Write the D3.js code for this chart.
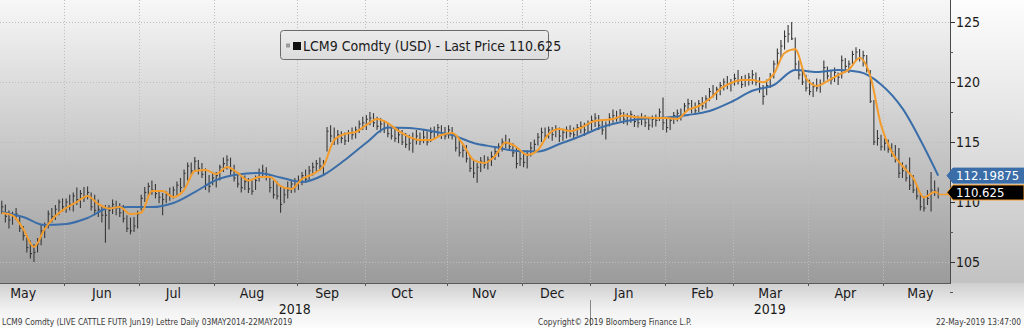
<!DOCTYPE html>
<html>
<head>
<meta charset="utf-8">
<script src="https://cdn.jsdelivr.net/npm/d3@7"></script>
<style>
  html, body { margin: 0; padding: 0; background: #ffffff; overflow: hidden; }
  svg text { font-family: "DejaVu Sans Condensed", "DejaVu Sans", sans-serif; font-stretch: condensed; }
</style>
</head>
<body>
<svg id="chart" width="1024" height="328"></svg>
<script>
// ---- Sessions: LCM9 daily bars, 07-May-2018 .. 22-May-2019 ----
const startDate = "2018-05-07";
const endDate = "2019-05-22";
const holidays = ["2018-05-28", "2018-07-04", "2018-09-03", "2018-11-22", "2018-12-05",
  "2018-12-25", "2019-01-01", "2019-01-21", "2019-02-18", "2019-04-19"];

// ---- Daily highs ----
const highs = [
  // May 2018
  110.1,109.8,109.3,109.2,109.5,108.9,108.0,107.25,106.8,106.5,107.0,108.1,108.3,109.3,109.5,109.75,110.2,110.3,
  // Jun
  110.3,110.6,110.8,111.2,111.0,111.25,111.3,110.8,110.6,110.2,109.7,109.75,109.75,110.2,110.1,109.9,109.75,108.9,108.7,108.75,109.3,
  // Jul
  110.6,111.25,111.6,111.8,111.5,111.0,110.75,110.9,111.2,111.3,111.7,112.0,112.7,113.3,113.3,113.75,113.5,113.25,112.8,112.25,112.5,
  // Aug
  112.5,113.1,113.7,113.9,113.7,113.1,112.5,112.25,112.2,112.0,111.8,112.2,112.8,113.1,112.9,112.25,111.8,111.7,111.4,111.2,111.7,111.8,112.0,
  // Sep
  112.2,112.5,112.7,113.0,113.3,113.5,113.7,113.5,116.25,116.4,116.2,116.0,115.9,115.8,116.0,116.2,116.3,116.8,117.1,
  // Oct
  117.25,117.5,117.4,117.1,117.0,116.8,116.6,116.4,116.25,116.2,116.0,115.75,115.6,115.8,116.0,115.8,116.0,115.9,116.2,116.3,116.5,116.4,116.25,
  // Nov
  116.4,116.25,115.6,115.2,114.9,114.75,113.9,113.5,113.25,113.75,113.9,113.8,114.2,114.5,114.9,115.3,115.6,115.3,114.9,114.5,114.3,
  // Dec
  114.2,114.3,115.0,115.2,115.75,116.2,116.2,116.3,116.25,116.4,116.2,116.1,116.3,116.4,116.2,116.5,116.7,116.6,116.8,
  // Jan 2019
  117.2,117.4,117.25,116.8,116.7,117.4,117.7,117.6,117.75,117.5,117.4,117.6,117.25,117.2,117.4,117.25,117.1,117.2,117.3,117.8,118.7,
  // Feb
  117.0,117.1,117.5,117.7,117.8,118.25,118.6,118.5,118.3,118.5,118.75,118.9,119.5,119.75,119.6,120.0,120.3,120.5,120.25,
  // Mar
  120.7,121.0,120.5,120.6,120.75,121.0,120.8,120.4,119.75,120.2,120.75,121.8,122.8,123.5,124.3,124.75,125.0,123.7,121.8,121.2,120.6,
  // Apr
  120.2,120.0,120.3,120.2,121.8,121.3,121.0,121.2,120.8,122.2,122.0,121.8,122.6,122.9,122.75,122.6,122.25,121.0,118.5,116.0,115.6,
  // May
  115.3,115.2,114.9,114.75,114.5,113.3,113.1,113.7,112.25,111.4,110.8,110.5,111.0,112.5,111.8,111.2
];

// ---- Daily lows ----
const lows = [
  109.0,108.3,107.8,108.1,108.5,107.5,106.8,105.8,105.3,105.0,105.8,106.4,107.0,107.8,108.3,108.5,108.9,109.2,
  109.1,109.3,109.2,109.75,109.5,110.0,110.2,109.3,108.9,108.75,108.3,106.6,107.7,109.0,108.9,108.75,108.3,107.5,107.3,107.5,107.8,
  109.3,110.0,110.3,110.6,110.3,109.9,108.9,109.9,110.1,110.3,110.5,110.8,111.2,111.8,112.2,112.5,112.3,112.0,111.0,110.8,111.4,
  111.2,111.8,112.5,112.7,112.25,111.7,111.2,110.8,111.0,110.75,110.6,111.0,111.7,112.0,111.8,110.8,110.3,110.2,109.1,109.9,110.3,110.75,110.8,
  111.0,111.4,111.6,111.8,112.2,112.5,112.6,112.3,114.2,115.0,114.75,114.8,114.9,114.75,115.0,115.2,115.3,115.75,116.0,
  116.0,116.4,116.25,116.0,115.8,115.75,115.4,115.2,115.0,114.9,114.75,114.5,114.3,114.1,114.8,114.75,114.9,114.7,115.0,115.3,115.4,115.25,115.2,
  115.3,115.2,114.2,113.8,113.7,113.3,112.5,112.0,111.6,112.5,112.8,112.7,113.0,113.5,113.75,114.2,114.5,114.3,113.75,112.8,113.0,
  112.9,112.8,113.8,114.1,114.7,115.0,115.2,115.3,115.1,115.4,115.0,115.1,115.3,115.4,115.2,115.5,115.7,115.5,115.75,
  116.0,116.25,116.0,115.6,115.2,116.3,116.6,116.7,116.75,116.5,116.4,116.6,116.25,116.2,116.4,116.25,116.0,116.2,116.3,116.75,116.0,
  115.8,116.0,116.5,116.7,116.8,117.2,117.6,117.4,117.25,117.5,117.7,117.8,118.4,118.7,118.5,118.9,119.3,119.4,119.2,
  119.7,119.8,119.5,119.6,119.7,119.8,119.7,119.1,118.1,118.9,119.5,120.3,121.3,122.0,122.7,123.3,123.5,121.0,120.2,119.75,119.2,
  118.9,118.75,119.2,119.1,120.0,120.2,119.8,120.0,119.75,120.3,120.8,120.75,121.5,121.8,121.7,121.3,120.8,118.25,114.75,114.7,114.3,
  114.3,114.1,113.75,113.3,112.0,112.0,111.7,111.0,110.75,110.2,109.3,109.2,109.75,109.2,110.5,110.3
];

// ---- Daily closes ----
const closes = [
  109.6,108.8,108.5,108.9,109.0,107.8,107.2,106.2,105.7,105.8,106.5,107.6,108.0,109.0,108.8,109.4,110.0,109.6,
  110.0,109.8,110.5,110.2,110.7,110.4,110.8,109.6,109.3,109.4,108.9,108.9,109.3,109.8,109.5,109.1,108.6,107.8,107.6,108.0,109.0,
  110.3,110.8,111.3,111.0,110.7,110.4,110.2,110.6,110.5,111.0,111.4,111.2,112.4,113.0,112.6,113.4,112.8,112.3,111.4,111.3,112.0,
  112.2,112.9,113.2,113.5,112.6,112.0,111.5,111.2,111.7,111.1,110.9,111.8,112.4,112.6,112.1,111.2,110.6,110.5,109.8,110.6,111.0,111.5,111.3,
  111.8,112.2,111.9,112.6,112.9,113.2,113.0,113.3,115.9,115.5,115.2,115.6,115.3,115.1,115.7,115.6,116.0,116.5,116.6,
  116.9,117.0,116.6,116.3,116.5,116.1,115.7,115.5,115.3,115.6,115.0,114.8,114.9,115.2,115.5,115.1,115.4,115.0,115.8,115.9,116.2,115.7,115.5,
  116.0,115.6,114.5,114.1,114.3,113.6,112.8,112.4,112.9,113.4,113.1,113.5,113.8,114.2,114.6,115.0,114.9,114.6,114.1,113.2,113.6,
  113.3,113.9,114.5,114.8,115.4,115.8,115.5,116.0,115.6,116.1,115.5,115.8,116.0,115.7,115.6,116.2,116.3,116.0,116.5,
  116.8,117.0,116.4,116.0,116.4,117.0,117.2,117.0,117.4,116.9,117.1,117.3,116.7,116.6,117.0,116.6,116.4,116.9,116.8,117.5,116.6,
  116.2,116.8,117.2,117.4,117.1,118.0,118.2,117.8,117.6,118.2,118.0,118.6,119.2,119.0,119.4,119.7,120.0,119.8,119.9,
  120.3,120.1,119.8,120.2,120.4,120.6,120.0,119.5,118.8,119.7,120.4,121.5,122.4,123.0,123.8,124.0,123.6,121.5,120.6,120.0,119.5,
  119.2,119.6,119.5,119.8,121.2,120.5,120.2,120.8,120.4,121.8,121.3,121.5,122.3,122.5,122.0,122.2,121.0,118.4,115.0,115.3,114.6,
  114.9,114.4,114.2,113.6,112.4,112.6,112.0,111.4,111.0,110.5,109.6,109.5,110.3,111.0,110.9,110.625
];

// ---- Short moving average (orange), read every 3rd session; last value on the final session ----
const fastMA = [
  109.08,108.88,107.75,106.25,107.75,108.83,109.5,110.0,110.5,109.83,
  109.46,109.58,109.0,109.1,110.92,110.92,110.42,111.0,112.58,112.67,
  112.33,112.92,112.42,111.79,112.08,112.08,111.33,111.08,111.92,112.33,
  113.0,115.17,115.67,115.83,116.42,116.92,116.58,115.92,115.42,115.17,
  115.17,115.58,115.75,114.83,113.5,113.25,113.83,114.96,114.58,113.92,
  114.33,115.67,116.08,115.92,116.17,116.67,116.83,116.92,117.21,117.08,
  117.04,117.0,117.0,116.92,117.67,118.0,118.58,119.42,119.92,120.17,
  120.17,119.98,120.67,122.42,122.72,120.33,119.67,120.08,120.58,121.04,
  122.0,120.5,116.42,114.17,113.0,112.0,110.38,110.83,
  110.75
];
// ---- Long moving average (blue), read every 6th session; last value on the final session ----
const slowMA = [
  109.17,108.75,108.08,108.17,108.67,109.5,109.58,109.58,109.92,110.83,
  111.83,112.29,112.42,112.04,111.67,112.25,113.5,114.94,116.2,116.17,
  115.92,115.58,114.92,114.58,114.25,114.21,114.83,115.5,116.25,116.71,
  116.96,117.04,117.25,117.58,118.33,119.27,119.75,121.0,120.83,121.0,
  120.83,119.8,117.8,114.6,
  112.19875
];

const yTicks = [105, 110, 115, 120, 125];
const lastPrice = 110.625;
const legendText = "LCM9 Comdty (USD) - Last Price 110.625";
const footerLeft = "LCM9 Comdty (LIVE CATTLE FUTR  Jun19) Lettre  Daily 03MAY2014-22MAY2019";
const footerMid = "Copyright\u00A9 2019 Bloomberg Finance L.P.";
const footerRight = "22-May-2019 13:47:00";

// ---- Layout ----
const W = 1024, H = 328;
const plotRight = 950, plotBottom = 283;
const ORANGE = "#f39c2c", BLUE = "#3b6ea8", BAR = "#383838";

const fmt = d3.utcFormat("%Y-%m-%d");
const parse = d3.utcParse("%Y-%m-%d");
const sessions = d3.utcDays(parse(startDate), d3.utcDay.offset(parse(endDate), 1))
  .filter(d => d.getUTCDay() !== 0 && d.getUTCDay() !== 6 && !holidays.includes(fmt(d)));
const keys = sessions.map(fmt);
const n = keys.length;

const x = d3.scaleBand().domain(keys).range([0, 940]).paddingInner(0).paddingOuter(0);
const cx = k => x(k) + x.bandwidth() / 2;
const y = d3.scaleLinear().domain([105, 125]).range([262, 22]);

const svg = d3.select("#chart");
const defs = svg.append("defs");
function vgrad(id, stops) {
  const g = defs.append("linearGradient").attr("id", id)
    .attr("x1", 0).attr("y1", 0).attr("x2", 0).attr("y2", 1);
  stops.forEach(([o, c]) => g.append("stop").attr("offset", o).attr("stop-color", c));
}
vgrad("plotBg", [[0, "#f7f7f7"], [1, "#9b9b9b"]]);
vgrad("sideBg", [[0, "#fdfdfd"], [1, "#c2c2c2"]]);
vgrad("footBg", [[0, "#cfcfcf"], [0.6, "#f2f2f2"], [1, "#fcfcfc"]]);
vgrad("legendBg", [[0, "#ececec"], [1, "#dcdcdc"]]);

svg.append("rect").attr("x", plotRight).attr("y", 0).attr("width", W - plotRight).attr("height", plotBottom).attr("fill", "url(#sideBg)");
svg.append("rect").attr("x", 0).attr("y", plotBottom).attr("width", W).attr("height", H - plotBottom).attr("fill", "url(#footBg)");
svg.append("rect").attr("x", 0).attr("y", 0).attr("width", plotRight).attr("height", plotBottom).attr("fill", "url(#plotBg)");

// month starts (first session of each calendar month)
const monthStarts = keys.filter((k, i) => i > 0 && k.slice(0, 7) !== keys[i - 1].slice(0, 7));

// grid
const grid = svg.append("g").attr("stroke", "#bdbdbd").attr("stroke-width", 1).attr("stroke-dasharray", "1,2");
grid.selectAll("line.h").data(yTicks).join("line")
  .attr("x1", 0).attr("x2", plotRight)
  .attr("y1", d => Math.round(y(d)) + 0.5).attr("y2", d => Math.round(y(d)) + 0.5);
grid.selectAll("line.v").data(monthStarts).join("line")
  .attr("x1", d => Math.round(x(d)) + 0.5).attr("x2", d => Math.round(x(d)) + 0.5)
  .attr("y1", 0).attr("y2", plotBottom);

// OHLC bars (high-low range with close tick)
const bars = keys.map((k, i) => ({ k, h: highs[i], l: lows[i], c: closes[i] }));
const gb = svg.append("g").attr("stroke", BAR).attr("stroke-width", 1.1);
gb.selectAll("line.r").data(bars).join("line")
  .attr("x1", d => cx(d.k)).attr("x2", d => cx(d.k))
  .attr("y1", d => y(d.h)).attr("y2", d => y(d.l));
gb.selectAll("line.c").data(bars).join("line")
  .attr("x1", d => cx(d.k)).attr("x2", d => cx(d.k) + 1.6)
  .attr("y1", d => y(d.c)).attr("y2", d => y(d.c));

// moving averages
const slowPts = slowMA.map((v, j) => [keys[Math.min(j * 6, n - 1)], v]);
const fastPts = fastMA.map((v, j) => [keys[Math.min(j * 3, n - 1)], v]);
const line = d3.line().x(d => cx(d[0])).y(d => y(d[1])).curve(d3.curveMonotoneX);
svg.append("path").attr("d", line(slowPts)).attr("fill", "none").attr("stroke", BLUE).attr("stroke-width", 2);
svg.append("path").attr("d", line(fastPts)).attr("fill", "none").attr("stroke", ORANGE).attr("stroke-width", 2);
// last price extension to the axis
svg.append("line").attr("x1", cx(keys[n - 1])).attr("x2", plotRight)
  .attr("y1", y(lastPrice)).attr("y2", y(lastPrice)).attr("stroke", ORANGE).attr("stroke-width", 1.5);

// axes frame
svg.append("line").attr("x1", plotRight + 0.5).attr("x2", plotRight + 0.5).attr("y1", 0).attr("y2", plotBottom)
  .attr("stroke", "#4a4a4a");
svg.append("line").attr("x1", 0).attr("x2", plotRight + 1).attr("y1", plotBottom + 0.5).attr("y2", plotBottom + 0.5)
  .attr("stroke", "#5a5a5a");

// right axis ticks and labels
const minor = d3.range(102.5, 127.6, 2.5).filter(v => !yTicks.includes(v));
svg.append("g").selectAll("line").data(minor).join("line")
  .attr("x1", plotRight).attr("x2", plotRight + 3)
  .attr("y1", d => Math.round(y(d)) + 0.5).attr("y2", d => Math.round(y(d)) + 0.5)
  .attr("stroke", "#555");
svg.append("g").selectAll("line").data(yTicks).join("line")
  .attr("x1", plotRight).attr("x2", plotRight + 5)
  .attr("y1", d => Math.round(y(d)) + 0.5).attr("y2", d => Math.round(y(d)) + 0.5)
  .attr("stroke", "#333");
svg.append("g").selectAll("text").data(yTicks).join("text")
  .attr("x", plotRight + 6).attr("y", d => y(d)).attr("dy", "0.36em")
  .attr("font-size", 14).attr("fill", "#1a1a1a").text(d => d);

// bottom axis: month ticks, month labels, years
svg.append("g").selectAll("line").data(monthStarts).join("line")
  .attr("x1", d => Math.round(x(d)) + 0.5).attr("x2", d => Math.round(x(d)) + 0.5)
  .attr("y1", plotBottom).attr("y2", plotBottom + 3).attr("stroke", "#555");

const monthGroups = d3.groups(sessions, d => fmt(d).slice(0, 7));
const monthLabels = monthGroups.map(([m, ds]) => {
  const mid = parse(m + "-15");
  const best = d3.least(ds, d => Math.abs(d - mid));
  return { m, k: fmt(best), label: d3.utcFormat("%b")(best) };
});
svg.append("g").selectAll("text").data(monthLabels).join("text")
  .attr("x", d => cx(d.k)).attr("y", 298).attr("text-anchor", "middle")
  .attr("font-size", 14).attr("fill", "#1a1a1a").text(d => d.label);

const yearStart = keys.find(k => k.startsWith("2019"));
const years = [
  { label: "2018", x0: 0, x1: x(yearStart) },
  { label: "2019", x0: x(yearStart), x1: plotRight }
];
svg.append("g").selectAll("text").data(years).join("text")
  .attr("x", d => (d.x0 + d.x1) / 2).attr("y", 314).attr("text-anchor", "middle")
  .attr("font-size", 14).attr("fill", "#1a1a1a").text(d => d.label);
svg.append("line").attr("x1", Math.round(x(yearStart)) + 0.5).attr("x2", Math.round(x(yearStart)) + 0.5)
  .attr("y1", 300).attr("y2", 326).attr("stroke", "#888");

// footer
const foot = svg.append("g").attr("font-size", 8.3).attr("fill", "#3a3a3a");
foot.append("text").attr("x", 2).attr("y", 325).text(footerLeft);
foot.append("text").attr("x", 538).attr("y", 325).text(footerMid);
foot.append("text").attr("x", 1021).attr("y", 325).attr("text-anchor", "end").text(footerRight);

// legend
const lg = svg.append("g");
lg.append("rect").attr("x", 280.5).attr("y", 30.5).attr("width", 268).attr("height", 29).attr("rx", 3)
  .attr("fill", "url(#legendBg)").attr("stroke", "#6a6a6a");
lg.append("rect").attr("x", 286).attr("y", 43.5).attr("width", 4).attr("height", 4).attr("fill", "#9a9a9a");
lg.append("rect").attr("x", 293).attr("y", 42).attr("width", 8).attr("height", 8).attr("fill", "#111");
lg.append("text").attr("x", 303).attr("y", 51).attr("font-size", 14).attr("fill", "#1a1a1a").text(legendText);

// value tags on the right axis (drawn over the tick labels they cover)
function tag(value, nudge, fill, stroke, label) {
  const cy = y(value) + nudge, hh = 7.5;
  svg.append("path")
    .attr("d", `M${plotRight - 3},${cy} L${plotRight + 3},${cy - hh} L${W},${cy - hh} L${W},${cy + hh} L${plotRight + 3},${cy + hh} Z`)
    .attr("fill", fill).attr("stroke", stroke).attr("stroke-width", 1);
  svg.append("text").attr("x", plotRight + 6).attr("y", cy).attr("dy", "0.36em")
    .attr("font-size", 13).attr("fill", "#ffffff").text(label);
}
tag(slowMA[slowMA.length - 1], 0, BLUE, BLUE, String(slowMA[slowMA.length - 1]));
tag(lastPrice, -2, "#000000", ORANGE, String(lastPrice));
</script>
</body>
</html>
